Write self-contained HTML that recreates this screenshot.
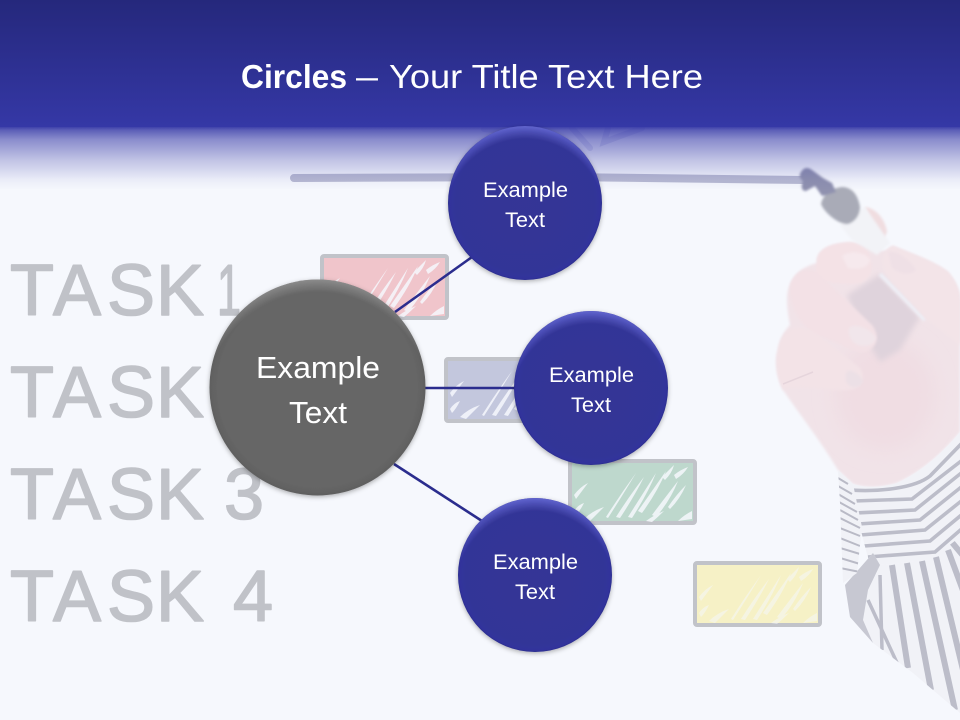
<!DOCTYPE html>
<html><head><meta charset="utf-8"><style>
html,body{margin:0;padding:0;background:#f6f8fd}
svg{display:block}
</style></head><body>
<svg xmlns="http://www.w3.org/2000/svg" width="960" height="720" viewBox="0 0 960 720">
<defs>
<linearGradient id="hd" x1="0" y1="0" x2="0" y2="1"><stop offset="0" stop-color="#25287c"/><stop offset="1" stop-color="#3538a6"/></linearGradient>
<linearGradient id="fade" x1="0" y1="0" x2="0" y2="1"><stop offset="0" stop-color="#3538a6" stop-opacity=".95"/><stop offset=".05" stop-color="#3538a6" stop-opacity=".8"/><stop offset=".2" stop-color="#3538a6" stop-opacity=".56"/><stop offset=".52" stop-color="#3538a6" stop-opacity=".28"/><stop offset=".84" stop-color="#3538a6" stop-opacity=".06"/><stop offset="1" stop-color="#3538a6" stop-opacity="0"/></linearGradient>
<radialGradient id="blue" cx=".5" cy=".5" r=".5"><stop offset="0" stop-color="#343596"/><stop offset=".9" stop-color="#333597"/><stop offset=".98" stop-color="#31339c"/><stop offset="1" stop-color="#2b2d8c"/></radialGradient>
<radialGradient id="gray" cx=".5" cy=".5" r=".5"><stop offset="0" stop-color="#666"/><stop offset=".92" stop-color="#666"/><stop offset="1" stop-color="#606060"/></radialGradient>
<radialGradient id="bhi" cx=".5" cy=".6" r=".6"><stop offset=".86" stop-color="#6669d0" stop-opacity="0"/><stop offset="1" stop-color="#6a6ed8" stop-opacity=".85"/></radialGradient>
<radialGradient id="ghi" cx=".5" cy=".58" r=".58"><stop offset=".9" stop-color="#aaa" stop-opacity="0"/><stop offset="1" stop-color="#b0b0b0" stop-opacity=".55"/></radialGradient>
<filter id="sh" x="-20%" y="-20%" width="140%" height="140%"><feDropShadow dx="0" dy="1.5" stdDeviation="2.5" flood-color="#000" flood-opacity=".3"/></filter>
<filter id="b1"><feGaussianBlur stdDeviation="1.3"/></filter>
<filter id="b2"><feGaussianBlur stdDeviation="3"/></filter>
<filter id="b6" x="-30%" y="-30%" width="160%" height="160%"><feGaussianBlur stdDeviation="10"/></filter>
<clipPath id="cuff"><path d="M853 484C865 488 880 488 897 483C925 470 945 450 960 432V537L930 560 880 565 868 558 860 527Z"/></clipPath>
<clipPath id="sl"><path d="M960 537L930 560 880 565 873 553 845 585 850 617 873 643 913 673 960 713Z"/></clipPath>
<clipPath id="fold"><path d="M838 470L853 484 862 527 857 573 843 583 840 503Z"/></clipPath>
<g id="scr" fill="#f6f8fd" opacity=".85">
<path d="M36 56Q50 34 66 12Q54 32 38 57Z"/>
<path d="M46 56Q60 34 74 16Q64 36 50 57Z"/>
<path d="M58 56Q72 34 86 12Q78 32 62 57Z"/>
<path d="M68 50Q82 30 96 10Q88 30 72 52Z"/>
<path d="M82 54Q94 38 108 20Q100 40 86 56Z"/>
<path d="M98 46Q106 34 116 24Q110 38 100 48Z"/>
<path d="M92 16Q98 10 104 4Q102 12 95 19Z"/>
<path d="M104 14Q110 9 118 6Q114 13 106 18Z"/>
<path d="M4 34Q10 26 18 22Q12 30 6 38Z"/>
<path d="M4 50Q8 44 14 42Q10 50 6 54Z"/>
<path d="M14 58Q22 50 34 46Q26 54 20 60Z"/>
<path d="M76 60Q84 54 94 50Q88 56 82 61Z"/>
<path d="M108 60Q114 54 122 50V58Z"/>
</g>
</defs>

<rect width="960" height="720" fill="#f6f8fd"/>

<!-- whiteboard handwriting (background picture) -->
<g font-family="'Liberation Sans',sans-serif" font-size="72" fill="#c0c2c8" stroke="#c0c2c8" stroke-width="1.6" stroke-linejoin="round">
<text x="10 53 107 156" y="315">TASK</text>
<text transform="translate(217 315) scale(.6 1)" x="0" y="0">1</text>
<text x="10 53 107 156" y="417">TASK</text>
<text x="10 53 107 156" y="519">TASK</text>
<text x="224" y="519">3</text>
<text x="10 53 107 156" y="621">TASK</text>
<text x="233" y="621">4</text>
</g>

<!-- task boxes -->
<g>
<rect x="322" y="256" width="125" height="62" rx="2" fill="#f6f8fd" stroke="#c1c3c9" stroke-width="4"/>
<rect x="324" y="258" width="121" height="58" fill="#f0c5cb"/><use href="#scr" x="322" y="256"/>
<rect x="446" y="359" width="125" height="62" rx="2" fill="#f6f8fd" stroke="#c1c3c9" stroke-width="4"/>
<rect x="448" y="361" width="121" height="58" fill="#c3c7dd"/><use href="#scr" x="446" y="359"/>
<rect x="570" y="461" width="125" height="62" rx="2" fill="#f6f8fd" stroke="#c1c3c9" stroke-width="4"/>
<rect x="572" y="463" width="121" height="58" fill="#bed8cd"/><use href="#scr" x="570" y="461"/>
<rect x="695" y="563" width="125" height="62" rx="2" fill="#f6f8fd" stroke="#c1c3c9" stroke-width="4"/>
<rect x="697" y="565" width="121" height="58" fill="#f6f1c6"/><use href="#scr" x="695" y="563" opacity=".6"/>
</g>

<!-- drawn line + title scribble -->
<path d="M294 178L560 177 805 180" fill="none" stroke="#b9bbd2" stroke-width="8" stroke-linecap="round"/>
<path d="M484 129L530 134M572 128L590 148M608 128L604 142L642 128" fill="none" stroke="#b0b2dc" stroke-width="6" stroke-linecap="round" opacity=".35"/>

<!-- hand -->
<g>
<path d="M865 207C875 208 885 218 887 232L878 250Z" fill="#f0dde0" filter="url(#b1)"/>
<path d="M838 470C820 440 800 415 783 390C776 375 775 360 778 350C780 338 785 330 790 325C786 305 786 292 790 285C795 272 805 266 817 263C816 252 826 245 843 243C855 241 868 245 880 250C886 252 890 248 893 246C915 255 935 262 948 272C955 280 960 290 960 300V432C945 450 925 470 897 483C880 488 865 488 853 484Z" fill="#f1e3e8" filter="url(#b1)"/>
<ellipse cx="885" cy="395" rx="50" ry="55" fill="#f0dde3" filter="url(#b6)"/>
<path d="M847 295L880 274 920 317 900 350 880 362 860 330Z" fill="#dfd3dc" filter="url(#b2)"/>
<path d="M880 274L925 320" stroke="#eeeef5" stroke-width="4" fill="none" filter="url(#b1)"/>
<path d="M883 258C885 250 890 246 893 246C915 255 935 262 948 272C955 280 960 290 960 300V345L925 318 900 290C890 280 880 270 883 258Z" fill="#f3e4e8" filter="url(#b1)"/>
<path d="M888 252C898 250 912 262 916 270 910 276 900 274 892 268Z" fill="#efe0e6" filter="url(#b1)"/>
<path d="M817 263C816 252 826 245 843 243C855 241 868 245 870 257C874 268 872 278 860 283C845 285 825 283 818 278C815 272 815 268 817 263Z" fill="#f4e2e6" filter="url(#b1)"/>
<path d="M842 256C850 250 866 252 870 260 868 268 858 270 848 268Z" fill="#f6e9ed" filter="url(#b1)"/>
<path d="M790 285C795 272 805 266 817 272L872 325C880 335 878 348 865 352C850 352 835 340 815 335C800 325 788 305 790 285Z" fill="#f3e1e6" filter="url(#b1)"/>
<path d="M849 328C856 322 872 330 876 338 874 346 864 348 856 344 850 340 848 334 849 328Z" fill="#f1e6eb" filter="url(#b1)"/>
<path d="M778 350C780 338 785 330 795 328C805 325 815 332 825 340L860 368C866 376 862 388 850 390C835 392 800 385 783 390C776 375 775 360 778 350Z" fill="#f3e3e7" filter="url(#b1)"/>
<path d="M846 372C852 368 862 376 863 382 858 390 850 388 846 382Z" fill="#ece0e6" filter="url(#b1)"/>
<path d="M783 384L813 372" stroke="#e6d5dc" stroke-width="1.5" fill="none"/>
</g>

<!-- pen -->
<g filter="url(#b1)">
<path d="M840 225L865 207 890 243 877 255 852 240Z" fill="#f2f3f7"/>
<path d="M821 204C823 194 832 188 842 187C852 187 858 195 860 207C860 215 855 222 848 224C840 225 825 214 821 204Z" fill="#a9abb7"/>
<path d="M801 172C804 167 808 167 812 170L823 178 832 183 836 192 822 196 815 186 806 191C801 191 801 186 803 181 799 178 799 175 801 172Z" fill="#8f91af"/>
</g>

<!-- cuff + sleeve -->
<g>
<path d="M853 484C865 488 880 488 897 483C925 470 945 450 960 432V537L930 560 880 565 868 558 860 527Z" fill="#f1f2f7"/>
<g clip-path="url(#cuff)" fill="none" stroke="#bcbdc9" stroke-width="3.6">
<path d="M850 490C880 492 915 488 930 476L965 440"/>
<path d="M854 501L912 499 965 458"/>
<path d="M856 513L915 510 965 470"/>
<path d="M858 524L920 520 965 484"/>
<path d="M860 535L925 530 965 498"/>
<path d="M864 546L930 541 965 512"/>
<path d="M868 557L935 552 965 526"/>
</g>
<path d="M960 537L930 560 880 565 873 553 845 585 850 617 873 643 913 673 960 713Z" fill="#f1f2f7"/>
<g clip-path="url(#sl)" fill="none" stroke="#bcbdc9" stroke-width="6">
<path d="M892 565L908 668"/><path d="M907 563L931 690"/><path d="M922 561L955 710"/><path d="M936 557L975 720"/><path d="M948 550L985 650"/>
<path d="M950 540L975 570"/>
<path d="M880 575L882 650" stroke-width="3.5"/><path d="M868 600L898 665" stroke-width="3.5"/>
</g>
<path d="M873 553L880 565 868 590 863 620 873 643 850 617 845 585Z" fill="#c7c8d2"/>
<path d="M838 470L853 484 862 527 857 573 843 583 840 503Z" fill="#f1f2f7"/>
<g clip-path="url(#fold)" stroke="#b9bac6" stroke-width="2" fill="none">
<path d="M838 478L848 484M838 486L852 494M838 494L855 504M839 502L857 512M840 510L858 520M840 518L860 528M840 528L860 536M840 538L860 546M840 548L860 554M840 558L860 564M840 568L860 572"/>
</g>
</g>

<!-- header fade + bar -->
<rect x="0" y="127" width="960" height="63" fill="url(#fade)"/>
<rect x="0" y="0" width="960" height="127" fill="url(#hd)"/>

<!-- connectors -->
<g stroke="#2b2d8e" stroke-width="2.6" fill="none">
<path d="M395 312L472 257"/>
<path d="M424 388H516"/>
<path d="M394 464L482 521"/>
</g>

<!-- circles -->
<g filter="url(#sh)"><circle cx="525" cy="203" r="77" fill="url(#blue)"/><circle cx="525" cy="203" r="77" fill="url(#bhi)"/></g>
<g filter="url(#sh)"><circle cx="591" cy="388" r="77" fill="url(#blue)"/><circle cx="591" cy="388" r="77" fill="url(#bhi)"/></g>
<g filter="url(#sh)"><circle cx="535" cy="575" r="77" fill="url(#blue)"/><circle cx="535" cy="575" r="77" fill="url(#bhi)"/></g>
<g filter="url(#sh)"><circle cx="317.5" cy="387.5" r="108" fill="url(#gray)"/><circle cx="317.5" cy="387.5" r="108" fill="url(#ghi)"/></g>

<!-- text -->
<g font-family="'Liberation Sans',sans-serif" fill="#fff">
<text x="241" y="88" font-size="33" font-weight="700" textLength="106" lengthAdjust="spacingAndGlyphs">Circles</text>
<text x="356" y="88" font-size="33" textLength="22" lengthAdjust="spacingAndGlyphs">–</text>
<text x="389" y="88" font-size="33" textLength="314" lengthAdjust="spacingAndGlyphs">Your Title Text Here</text>
<g font-size="21" text-anchor="middle">
<text x="525.5" y="197" textLength="85" lengthAdjust="spacingAndGlyphs">Example</text>
<text x="525" y="227" textLength="40" lengthAdjust="spacingAndGlyphs">Text</text>
<text x="591.5" y="382" textLength="85" lengthAdjust="spacingAndGlyphs">Example</text>
<text x="591" y="412" textLength="40" lengthAdjust="spacingAndGlyphs">Text</text>
<text x="535.5" y="569" textLength="85" lengthAdjust="spacingAndGlyphs">Example</text>
<text x="535" y="599" textLength="40" lengthAdjust="spacingAndGlyphs">Text</text>
</g>
<g font-size="31" text-anchor="middle">
<text x="318" y="378" textLength="124" lengthAdjust="spacingAndGlyphs">Example</text>
<text x="318" y="423" textLength="58" lengthAdjust="spacingAndGlyphs">Text</text>
</g>
</g>
</svg>
</body></html>
